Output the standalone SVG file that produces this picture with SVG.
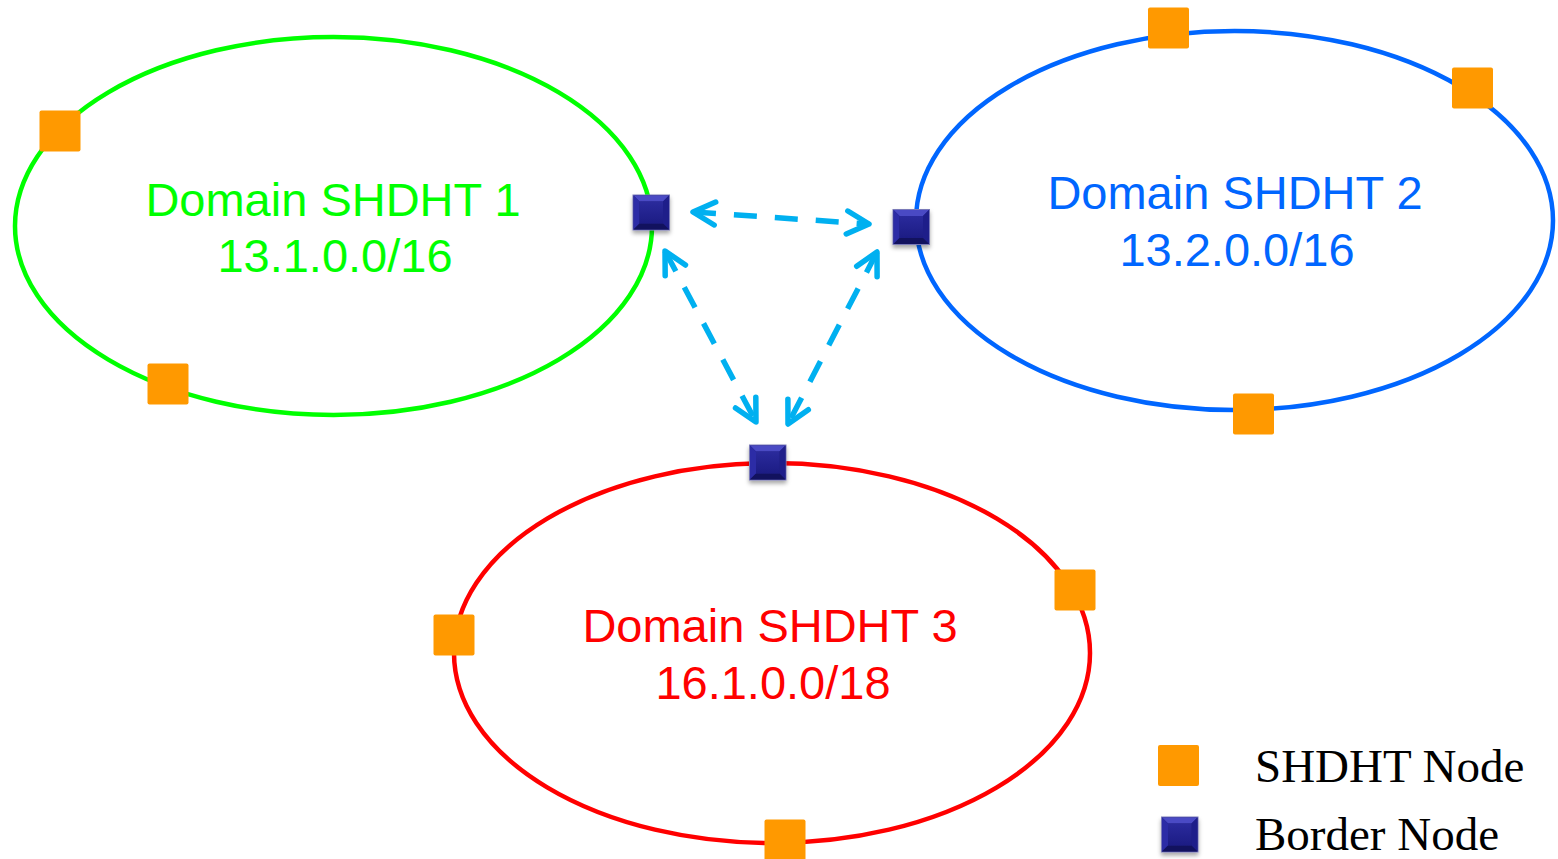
<svg xmlns="http://www.w3.org/2000/svg" xmlns:xlink="http://www.w3.org/1999/xlink" width="1558" height="859" viewBox="0 0 1558 859">
<style>
.dom{fill:none;stroke-width:4.5}
.lbl{font-family:"Liberation Sans",Arial,sans-serif;font-size:47px;text-anchor:middle}
.leg{font-family:"Liberation Serif","Times New Roman",serif;font-size:47px;fill:#000}
.sh{fill:#FF9900}
.link{fill:none;stroke:#00B0F0;stroke-width:5.5;stroke-dasharray:23 18;marker-start:url(#chev);marker-end:url(#chev)}
</style>
<defs>
<marker id="chev" markerUnits="userSpaceOnUse" viewBox="-30 -20 40 40" markerWidth="40" markerHeight="40" refX="0" refY="0" orient="auto-start-reverse" overflow="visible">
<path d="M-22,-11.5 L0,0 L-22,11.5" fill="none" stroke="#00B0F0" stroke-width="5.5" stroke-linecap="round" stroke-linejoin="round"/>
</marker>
<linearGradient id="face" x1="0" y1="0" x2="0" y2="1">
<stop offset="0" stop-color="#2a2a9c"/>
<stop offset="1" stop-color="#1c1c84"/>
</linearGradient>
<filter id="shadow" x="-30%" y="-30%" width="160%" height="170%">
<feDropShadow dx="0" dy="3" stdDeviation="2" flood-color="#000" flood-opacity="0.35"/>
</filter>
<g id="bnode">
<rect x="0" y="0" width="36.5" height="35" fill="#1a1a7c" stroke="#7a7ab8" stroke-width="1" filter="url(#shadow)"/>
<polygon points="0.5,0.5 36,0.5 30,6.5 6.5,6.5" fill="#4a4ac4"/>
<polygon points="0.5,0.5 6.5,6.5 6.5,28.5 0.5,34.5" fill="#2c2ca6"/>
<polygon points="36,0.5 36,34.5 30,28.5 30,6.5" fill="#1e1e8a"/>
<polygon points="0.5,34.5 6.5,28.5 30,28.5 36,34.5" fill="#12125e"/>
<rect x="6.5" y="6.5" width="23.5" height="22" fill="url(#face)"/>
</g>
</defs>

<g id="domain1">
<ellipse class="dom" cx="333.5" cy="226" rx="318.5" ry="189" stroke="#00FF00"/>
<text class="lbl" x="333" y="216" fill="#00FF00">Domain SHDHT 1</text>
<text class="lbl" x="335" y="272" fill="#00FF00">13.1.0.0/16</text>
</g>
<g id="domain2">
<ellipse class="dom" cx="1234.5" cy="220.5" rx="318.5" ry="189.5" stroke="#0066FF"/>
<text class="lbl" x="1235" y="209" fill="#0066FF">Domain SHDHT 2</text>
<text class="lbl" x="1237" y="266" fill="#0066FF">13.2.0.0/16</text>
</g>
<g id="domain3">
<ellipse class="dom" cx="772" cy="653" rx="318" ry="190" stroke="#FF0000"/>
<text class="lbl" x="770" y="642" fill="#FF0000">Domain SHDHT 3</text>
<text class="lbl" x="773" y="699" fill="#FF0000">16.1.0.0/18</text>
</g>

<g id="connectors">
<path class="link" d="M693,212 L869,224"/>
<path class="link" d="M665,251 L756,422"/>
<path class="link" d="M877,252 L788,424"/>
</g>

<g id="shdht-nodes">
<rect id="n1a" class="sh" x="39.5" y="110.5" width="41" height="41" rx="2"/>
<rect id="n1b" class="sh" x="147.5" y="363.5" width="41" height="41" rx="2"/>
<rect id="n2a" class="sh" x="1148" y="7.5" width="41" height="41" rx="2"/>
<rect id="n2b" class="sh" x="1452" y="67.5" width="41" height="41" rx="2"/>
<rect id="n2c" class="sh" x="1233" y="393.5" width="41" height="41" rx="2"/>
<rect id="n3a" class="sh" x="1054.5" y="569.5" width="41" height="41" rx="2"/>
<rect id="n3b" class="sh" x="433.5" y="614.5" width="41" height="41" rx="2"/>
<rect id="n3c" class="sh" x="764.5" y="819.5" width="41" height="41" rx="2"/>
</g>

<g id="border-nodes">
<use id="b1" xlink:href="#bnode" href="#bnode" x="633" y="195"/>
<use id="b2" xlink:href="#bnode" href="#bnode" x="893" y="209.5"/>
<use id="b3" xlink:href="#bnode" href="#bnode" x="749.5" y="445"/>
</g>

<g id="legend">
<rect class="sh" x="1158" y="745" width="41" height="41" rx="2"/>
<text class="leg" x="1255" y="782">SHDHT Node</text>
<use xlink:href="#bnode" href="#bnode" x="1161.5" y="817"/>
<text class="leg" x="1255" y="850">Border Node</text>
</g>
</svg>
